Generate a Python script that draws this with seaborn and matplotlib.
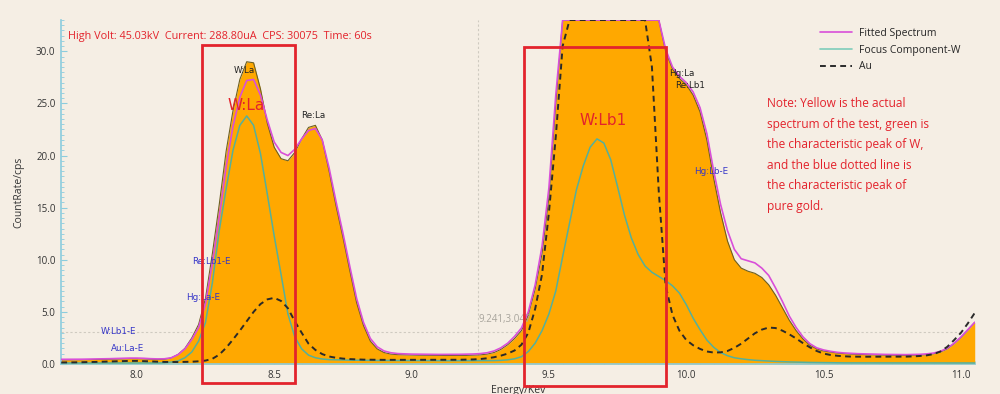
import numpy as np
import pandas as pd
import matplotlib
matplotlib.use('Agg')
import matplotlib.pyplot as plt
import seaborn as sns
from matplotlib.patches import Rectangle
from matplotlib.lines import Line2D
from matplotlib.ticker import MultipleLocator

# energy axis, keV (0.025 keV channels)
energy = np.round(np.arange(7.725, 11.0501, 0.025), 3)

# measured spectrum (orange area), cps; the instrument clamps values at the top of the view (33)
spectrum = [
    0.40, 0.40, 0.40, 0.41, 0.42, 0.43, 0.44, 0.46, 0.48, 0.50,
    0.52, 0.52, 0.50, 0.46, 0.44, 0.45, 0.58, 0.92, 1.50, 2.50,
    3.80, 6.30, 10.6, 15.3, 20.4, 24.3, 27.3, 29.0, 28.9, 26.4,
    23.1, 20.8, 19.7, 19.5, 20.3, 21.6, 22.7, 22.9, 21.5, 18.5,
    15.2, 12.2, 9.00, 5.90, 3.70, 2.20, 1.45, 1.10, 0.95, 0.90,
    0.88, 0.86, 0.85, 0.84, 0.83, 0.82, 0.82, 0.82, 0.82, 0.83,
    0.85, 0.88, 0.95, 1.10, 1.40, 1.85, 2.45, 3.20, 4.70, 7.20,
    10.6, 16.0, 25.0, 33.0, 33.0, 33.0, 33.0, 33.0, 33.0, 33.0,
    33.0, 33.0, 33.0, 33.0, 33.0, 33.0, 33.0, 33.0, 30.0, 28.3,
    27.4, 26.8, 25.8, 24.2, 21.5, 17.8, 14.5, 11.8, 10.0, 9.20,
    8.90, 8.70, 8.30, 7.60, 6.60, 5.40, 4.20, 3.20, 2.40, 1.80,
    1.45, 1.25, 1.15, 1.05, 1.00, 0.95, 0.92, 0.90, 0.88, 0.86,
    0.85, 0.84, 0.83, 0.83, 0.84, 0.86, 0.90, 0.98, 1.15, 1.45,
    1.95, 2.55, 3.25, 4.00,
]

fitted = [
    0.45, 0.45, 0.45, 0.46, 0.47, 0.48, 0.49, 0.51, 0.53, 0.55,
    0.57, 0.57, 0.55, 0.51, 0.49, 0.50, 0.60, 0.90, 1.45, 2.35,
    3.50, 5.80, 9.70, 14.1, 18.9, 22.8, 25.6, 27.2, 27.3, 25.8,
    23.4, 21.3, 20.3, 20.0, 20.6, 21.6, 22.4, 22.6, 21.5, 18.8,
    15.6, 12.6, 9.40, 6.30, 4.00, 2.45, 1.65, 1.25, 1.08, 1.00,
    0.97, 0.95, 0.94, 0.93, 0.92, 0.92, 0.92, 0.92, 0.93, 0.94,
    0.96, 1.00, 1.08, 1.25, 1.55, 2.00, 2.65, 3.45, 5.00, 7.60,
    11.3, 16.9, 25.8, 33.0, 33.0, 33.0, 33.0, 33.0, 33.0, 33.0,
    33.0, 33.0, 33.0, 33.0, 33.0, 33.0, 33.0, 33.0, 30.2, 28.5,
    27.6, 27.0, 26.1, 24.6, 22.1, 18.5, 15.3, 12.8, 11.0, 10.1,
    9.90, 9.70, 9.20, 8.50, 7.30, 6.00, 4.60, 3.50, 2.60, 1.95,
    1.55, 1.35, 1.22, 1.12, 1.06, 1.02, 0.99, 0.97, 0.95, 0.93,
    0.92, 0.91, 0.90, 0.90, 0.91, 0.93, 0.97, 1.05, 1.22, 1.52,
    2.00, 2.60, 3.30, 4.00,
]

w_component = [
    0.10, 0.10, 0.10, 0.10, 0.10, 0.10, 0.10, 0.10, 0.10, 0.10,
    0.10, 0.10, 0.10, 0.10, 0.10, 0.12, 0.18, 0.30, 0.60, 1.15,
    2.20, 4.00, 7.80, 12.8, 16.8, 20.5, 22.9, 23.8, 22.9, 20.2,
    16.3, 12.3, 8.60, 4.80, 2.60, 1.45, 0.85, 0.60, 0.48, 0.42,
    0.40, 0.38, 0.37, 0.36, 0.35, 0.35, 0.34, 0.34, 0.33, 0.33,
    0.33, 0.33, 0.33, 0.33, 0.33, 0.32, 0.32, 0.32, 0.32, 0.32,
    0.32, 0.32, 0.32, 0.33, 0.35, 0.40, 0.50, 0.70, 1.20, 2.00,
    3.20, 4.80, 7.00, 10.3, 13.5, 16.7, 19.0, 20.8, 21.6, 21.2,
    19.6, 17.0, 14.3, 12.1, 10.5, 9.40, 8.80, 8.40, 8.00, 7.50,
    6.80, 5.70, 4.40, 3.30, 2.30, 1.60, 1.10, 0.80, 0.60, 0.50,
    0.42, 0.36, 0.32, 0.28, 0.25, 0.22, 0.20, 0.18, 0.16, 0.15,
    0.14, 0.13, 0.12, 0.12, 0.11, 0.11, 0.10, 0.10, 0.10, 0.10,
    0.10, 0.10, 0.10, 0.10, 0.10, 0.10, 0.10, 0.10, 0.10, 0.10,
    0.10, 0.10, 0.10, 0.10,
]

au_ref = [
    0.15, 0.15, 0.16, 0.17, 0.18, 0.20, 0.22, 0.24, 0.26, 0.28,
    0.30, 0.30, 0.28, 0.25, 0.22, 0.20, 0.19, 0.19, 0.20, 0.22,
    0.26, 0.33, 0.50, 0.90, 1.55, 2.35, 3.20, 4.10, 5.00, 5.75,
    6.20, 6.35, 6.05, 5.35, 4.10, 3.00, 1.95, 1.35, 0.95, 0.72,
    0.60, 0.52, 0.47, 0.44, 0.42, 0.41, 0.40, 0.40, 0.40, 0.40,
    0.40, 0.40, 0.40, 0.40, 0.40, 0.40, 0.40, 0.40, 0.41, 0.42,
    0.44, 0.48, 0.55, 0.65, 0.80, 1.00, 1.30, 1.85, 3.00, 5.30,
    8.60, 14.5, 21.8, 30.5, 33.0, 33.0, 33.0, 33.0, 33.0, 33.0,
    33.0, 33.0, 33.0, 33.0, 33.0, 33.0, 28.5, 16.5, 7.50, 4.70,
    3.20, 2.30, 1.80, 1.45, 1.20, 1.10, 1.12, 1.25, 1.55, 1.95,
    2.45, 2.95, 3.30, 3.50, 3.45, 3.20, 2.85, 2.45, 2.00, 1.60,
    1.25, 1.00, 0.87, 0.79, 0.74, 0.71, 0.70, 0.70, 0.70, 0.70,
    0.70, 0.70, 0.70, 0.71, 0.73, 0.77, 0.83, 0.95, 1.20, 1.65,
    2.30, 3.00, 3.90, 4.90,
]

df = pd.DataFrame({'energy': energy, 'spectrum': spectrum, 'fitted': fitted,
                   'w': w_component, 'au': au_ref})

BG = '#F5EEE4'
RED = '#E3232C'
AXIS_BLUE = '#8CCCDD'

sns.set_theme(style='ticks')
plt.rcParams['font.family'] = ['Open Sans', 'DejaVu Sans']
plt.rcParams['figure.facecolor'] = BG
plt.rcParams['axes.facecolor'] = BG

fig = plt.figure(figsize=(10, 3.94), dpi=100)
ax = fig.add_axes([0.061, 0.0761, 0.914, 0.873])

# measured spectrum as filled area with a dark edge
ax.fill_between(df['energy'], df['spectrum'], 0, color='#FFA800', lw=0, zorder=1)
sns.lineplot(data=df, x='energy', y='spectrum', ax=ax, color='#6E6020', lw=0.8, zorder=2)

sns.lineplot(data=df, x='energy', y='fitted', ax=ax, color='#D94FD9', lw=1.2, zorder=3)
sns.lineplot(data=df, x='energy', y='w', ax=ax, color='#55B09C', lw=1.1, zorder=4)
sns.lineplot(data=df, x='energy', y='au', ax=ax, color='#2A2A2A', lw=1.4,
             dashes=(3, 2.2), zorder=5)

ax.set_xlim(7.724, 11.051)
ax.set_ylim(0, 33)

# crosshair
ax.axvline(9.241, color='#CFCAC0', lw=0.8, ls=(0, (2, 2)), zorder=0.5)
ax.axhline(3.047, color='#CFCAC0', lw=0.8, ls=(0, (2, 2)), zorder=0.5)
ax.text(9.245, 3.7, '9.241,3.047', color='#A8A49C', fontsize=7, ha='left', va='bottom', zorder=6)

# ticks and spines
ax.xaxis.set_major_locator(MultipleLocator(0.5))
ax.xaxis.set_minor_locator(MultipleLocator(0.05))
ax.yaxis.set_major_locator(MultipleLocator(5))
ax.yaxis.set_minor_locator(MultipleLocator(0.5))
ax.xaxis.set_major_formatter(matplotlib.ticker.FormatStrFormatter('%.1f'))
ax.yaxis.set_major_formatter(matplotlib.ticker.FormatStrFormatter('%.1f'))
ax.tick_params(which='both', direction='in', color=AXIS_BLUE, labelsize=7, labelcolor='#333333')
ax.tick_params(which='major', length=4, width=0.8, pad=4)
ax.tick_params(which='minor', length=2, width=0.6)
for side in ['top', 'right']:
    ax.spines[side].set_visible(False)
for side in ['left', 'bottom']:
    ax.spines[side].set_color(AXIS_BLUE)
    ax.spines[side].set_linewidth(1.2)

ax.set_xlabel('Energy/Kev', fontsize=7.5, color='#333333', labelpad=3)
ax.set_ylabel('CountRate/cps', fontsize=7.5, color='#333333', labelpad=8)

# instrument header
ax.text(0.008, 0.953, 'High Volt: 45.03kV  Current: 288.80uA  CPS: 30075  Time: 60s',
        transform=ax.transAxes, color=RED, fontsize=7.8, ha='left', va='center')

# peak labels
black_labels = [('W:La', 8.393, 28.2, 'center'), ('Re:La', 8.644, 23.8, 'center'),
                ('Hg:La', 9.938, 27.9, 'left'), ('Re:Lb1', 9.960, 26.7, 'left')]
for txt, x, y, ha in black_labels:
    ax.text(x, y, txt, fontsize=6.3, color='#222222', ha=ha, va='center', zorder=7,
            family=['DejaVu Sans'])

blue_labels = [('Re:Lb1-E', 8.203, 9.8), ('Hg:La-E', 8.180, 6.4), ('W:Lb1-E', 7.870, 3.1),
               ('Au:La-E', 7.905, 1.5), ('Hg:Lb-E', 10.030, 18.5)]
for txt, x, y in blue_labels:
    ax.text(x, y, txt, fontsize=6.3, color='#3535C8', ha='left', va='center', zorder=7,
            family=['DejaVu Sans'])

ax.text(8.33, 24.8, 'W:La', fontsize=11, color=RED, ha='left', va='center', zorder=8,
        family=['DejaVu Sans'])
ax.text(9.61, 23.4, 'W:Lb1', fontsize=11, color=RED, ha='left', va='center', zorder=8,
        family=['DejaVu Sans'])

# highlight boxes
for x0, x1, y0, y1 in [(8.236, 8.575, -1.8, 30.6), (9.409, 9.927, -2.15, 30.4)]:
    ax.add_patch(Rectangle((x0, y0), x1 - x0, y1 - y0, fill=False, edgecolor=RED,
                           lw=2, clip_on=False, zorder=9))

# legend
handles = [Line2D([], [], color='#D94FD9', lw=1.2),
           Line2D([], [], color='#7FCDBB', lw=1.2),
           Line2D([], [], color='#2A2A2A', lw=1.4, ls=(0, (3, 2.2)))]
ax.legend(handles, ['Fitted Spectrum', 'Focus Component-W', 'Au'], loc='upper left',
          bbox_to_anchor=(0.830, 0.977), frameon=False, fontsize=7.5, handlelength=3.1,
          handletextpad=0.7, labelspacing=0.55, borderpad=0, borderaxespad=0)

note = ('Note: Yellow is the actual\nspectrum of the test, green is\n'
        'the characteristic peak of W,\nand the blue dotted line is\n'
        'the characteristic peak of\npure gold.')
ax.text(0.772, 0.775, note, transform=ax.transAxes, color=RED, fontsize=8.6,
        ha='left', va='top', linespacing=1.75)

fig.savefig('out.png', dpi=100, facecolor=BG)
